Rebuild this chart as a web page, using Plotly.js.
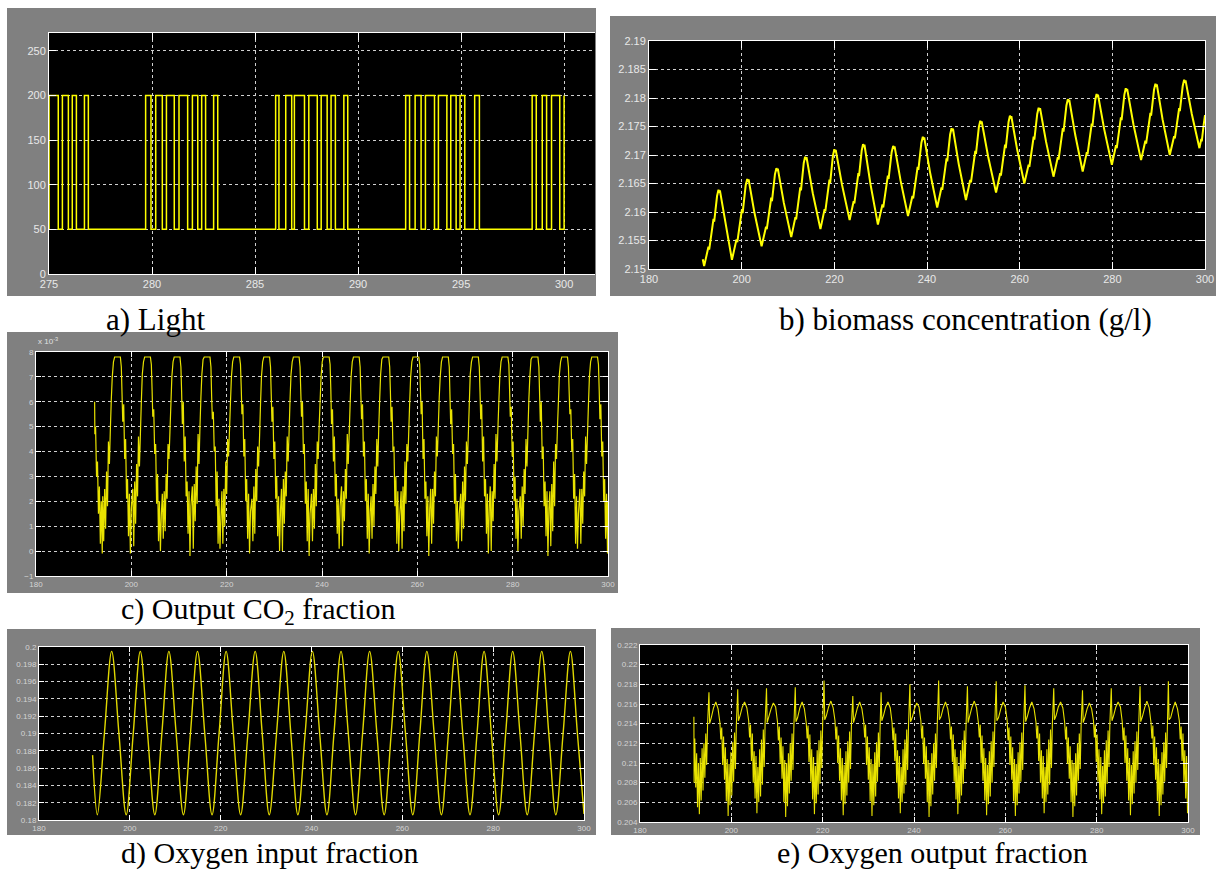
<!DOCTYPE html>
<html><head><meta charset="utf-8">
<script src="https://cdn.plot.ly/plotly-3.0.1.min.js"></script>
<style>html,body{margin:0;padding:0;background:#fff;}#chart{width:1218px;height:870px;}</style>
</head><body><div id="chart"></div>
<script>
// ---------- a) Light (step signal, edge times and level after each edge) ----------
const light_t = [275.00,275.00,275.45,275.65,275.94,276.13,276.33,276.72,276.91,279.69,279.95,280.18,280.50,280.70,281.08,281.31,281.73,281.96,282.22,282.41,282.60,282.99,283.19,286.00,286.16,286.49,286.78,286.91,287.40,287.61,288.02,288.21,288.50,288.69,288.90,289.31,289.50,292.31,292.50,292.77,293.06,293.27,293.71,293.90,294.31,294.50,294.76,294.95,295.18,295.66,295.89,298.45,298.65,298.94,299.15,299.39,299.79,300.00];
const light_v = [50,200,50,200,50,200,50,200,50,200,50,200,50,200,50,200,50,200,50,200,50,200,50,200,50,200,50,200,50,200,50,200,50,200,50,200,50,200,50,200,50,200,50,200,50,200,50,200,50,200,50,200,50,200,50,200,50,200];

// ---------- b) biomass concentration (g/l) ----------
const bio_t = [191.6,
191.9,192.83,192.99,193.92,194.07,194.69,195.0,195.2,195.3,196.6,
197.9,198.89,199.06,200.05,200.21,200.87,201.2,201.4,201.5,202.75,
204.3,205.26,205.42,206.38,206.54,207.18,207.5,207.7,207.8,209.1,
210.7,211.6,211.75,212.65,212.8,213.4,213.7,213.9,214.0,215.35,
217.0,217.9,218.05,218.95,219.1,219.7,220.0,220.2,220.3,221.65,
223.3,224.17,224.32,225.19,225.33,225.91,226.2,226.4,226.5,227.8,
229.4,230.39,230.56,231.55,231.71,232.37,232.7,232.9,233.0,234.3,
235.9,236.86,237.02,237.98,238.14,238.78,239.1,239.3,239.4,240.65,
242.2,243.13,243.29,244.22,244.37,244.99,245.3,245.5,245.6,246.85,
248.4,249.33,249.49,250.42,250.57,251.19,251.5,251.7,251.8,253.2,
254.9,255.8,255.95,256.85,257.0,257.6,257.9,258.1,258.2,259.45,
261.0,261.93,262.09,263.02,263.17,263.79,264.1,264.3,264.4,265.7,
267.3,268.23,268.39,269.32,269.47,270.09,270.4,270.6,270.7,272.0,
273.6,274.5,274.65,275.55,275.7,276.3,276.6,276.8,276.9,278.25,
279.9,280.8,280.95,281.85,282.0,282.6,282.9,283.1,283.2,284.55,
286.2,287.13,287.29,288.22,288.37,288.99,289.3,289.5,289.6,290.85,
292.4,293.33,293.49,294.42,294.57,295.19,295.5,295.7,295.8,297.15,
298.8,299.2,299.3,299.7,300.0];
const bio_v = [2.1517,
2.1505,2.1539,2.1534,2.1588,2.1583,2.1628,2.1639,2.1634,2.1638,2.1577,
2.1516,2.1552,2.1547,2.1604,2.1598,2.1647,2.1658,2.1653,2.1657,2.1599,
2.1540,2.1574,2.1570,2.1625,2.1619,2.1666,2.1677,2.1672,2.1676,2.1616,
2.1556,2.1591,2.1587,2.1643,2.1638,2.1686,2.1697,2.1692,2.1696,2.1633,
2.1570,2.1605,2.1601,2.1657,2.1651,2.1699,2.1710,2.1705,2.1709,2.1648,
2.1586,2.1619,2.1615,2.1668,2.1663,2.1708,2.1719,2.1714,2.1718,2.1649,
2.1578,2.1613,2.1608,2.1664,2.1658,2.1705,2.1716,2.1711,2.1715,2.1655,
2.1593,2.1628,2.1624,2.1679,2.1674,2.1721,2.1732,2.1727,2.1731,2.1670,
2.1608,2.1643,2.1639,2.1694,2.1689,2.1736,2.1747,2.1742,2.1746,2.1684,
2.1621,2.1656,2.1652,2.1707,2.1702,2.1749,2.1760,2.1755,2.1759,2.1697,
2.1634,2.1668,2.1664,2.1718,2.1712,2.1758,2.1769,2.1764,2.1768,2.1710,
2.1650,2.1683,2.1679,2.1732,2.1727,2.1772,2.1783,2.1778,2.1782,2.1723,
2.1662,2.1696,2.1692,2.1747,2.1741,2.1787,2.1798,2.1793,2.1797,2.1735,
2.1671,2.1705,2.1701,2.1755,2.1750,2.1796,2.1807,2.1802,2.1806,2.1745,
2.1683,2.1717,2.1712,2.1766,2.1761,2.1806,2.1817,2.1812,2.1816,2.1754,
2.1691,2.1725,2.1720,2.1774,2.1769,2.1814,2.1825,2.1820,2.1824,2.1762,
2.1700,2.1733,2.1729,2.1782,2.1777,2.1821,2.1832,2.1827,2.1831,2.1772,
2.1712,2.1728,2.1724,2.1752,2.1770];

// ---------- c) Output CO2 fraction (values in units of 10^-3) ----------
const co2_t = [192.3,192.35,192.5,192.7,192.9,193.1,193.3,193.5,193.7,193.9,
194.0,194.2,194.4,194.6,194.8,195.0,195.2,195.4,195.6,195.8,196.0,196.25,196.5,197.7,197.9,198.05,198.2,198.4,198.6,198.8,199.0,199.2,199.4,199.6,199.8,200.0,
200.3,200.5,200.7,200.9,201.1,201.3,201.5,201.7,201.9,202.1,202.3,202.55,202.8,204.0,204.2,204.35,204.5,204.7,204.9,205.1,205.3,205.5,205.7,205.9,206.1,206.3,
206.5,206.7,206.9,207.1,207.3,207.5,207.7,207.9,208.1,208.3,208.5,208.75,209.0,210.2,210.4,210.55,210.7,210.9,211.1,211.3,211.5,211.7,211.9,212.1,212.3,212.5,
212.8,213.0,213.2,213.4,213.6,213.8,214.0,214.2,214.4,214.6,214.8,215.05,215.3,216.5,216.7,216.85,217.0,217.2,217.4,217.6,217.8,218.0,218.2,218.4,218.6,218.8,
219.0,219.2,219.4,219.6,219.8,220.0,220.2,220.4,220.6,220.8,221.0,221.25,221.5,222.7,222.9,223.05,223.2,223.4,223.6,223.8,224.0,224.2,224.4,224.6,224.8,225.0,
225.3,225.5,225.7,225.9,226.1,226.3,226.5,226.7,226.9,227.1,227.3,227.55,227.8,229.0,229.2,229.35,229.5,229.7,229.9,230.1,230.3,230.5,230.7,230.9,231.1,231.3,
231.5,231.7,231.9,232.1,232.3,232.5,232.7,232.9,233.1,233.3,233.5,233.75,234.0,235.2,235.4,235.55,235.7,235.9,236.1,236.3,236.5,236.7,236.9,237.1,237.3,237.5,
237.8,238.0,238.2,238.4,238.6,238.8,239.0,239.2,239.4,239.6,239.8,240.05,240.3,241.5,241.7,241.85,242.0,242.2,242.4,242.6,242.8,243.0,243.2,243.4,243.6,243.8,
244.1,244.3,244.5,244.7,244.9,245.1,245.3,245.5,245.7,245.9,246.1,246.35,246.6,247.8,248.0,248.15,248.3,248.5,248.7,248.9,249.1,249.3,249.5,249.7,249.9,250.1,
250.3,250.5,250.7,250.9,251.1,251.3,251.5,251.7,251.9,252.1,252.3,252.55,252.8,254.0,254.2,254.35,254.5,254.7,254.9,255.1,255.3,255.5,255.7,255.9,256.1,256.3,
256.6,256.8,257.0,257.2,257.4,257.6,257.8,258.0,258.2,258.4,258.6,258.85,259.1,260.3,260.5,260.65,260.8,261.0,261.2,261.4,261.6,261.8,262.0,262.2,262.4,262.6,
262.8,263.0,263.2,263.4,263.6,263.8,264.0,264.2,264.4,264.6,264.8,265.05,265.3,266.5,266.7,266.85,267.0,267.2,267.4,267.6,267.8,268.0,268.2,268.4,268.6,268.8,
269.1,269.3,269.5,269.7,269.9,270.1,270.3,270.5,270.7,270.9,271.1,271.35,271.6,272.8,273.0,273.15,273.3,273.5,273.7,273.9,274.1,274.3,274.5,274.7,274.9,275.1,
275.3,275.5,275.7,275.9,276.1,276.3,276.5,276.7,276.9,277.1,277.3,277.55,277.8,279.0,279.2,279.35,279.5,279.7,279.9,280.1,280.3,280.5,280.7,280.9,281.1,281.3,
281.6,281.8,282.0,282.2,282.4,282.6,282.8,283.0,283.2,283.4,283.6,283.85,284.1,285.3,285.5,285.65,285.8,286.0,286.2,286.4,286.6,286.8,287.0,287.2,287.4,287.6,
287.8,288.0,288.2,288.4,288.6,288.8,289.0,289.2,289.4,289.6,289.8,290.05,290.3,291.5,291.7,291.85,292.0,292.2,292.4,292.6,292.8,293.0,293.2,293.4,293.6,293.8,
294.1,294.3,294.5,294.7,294.9,295.1,295.3,295.5,295.7,295.9,296.1,296.35,296.6,297.8,298.0,298.15,298.3,298.5,298.7,298.9,299.1,299.3,299.5,299.7,299.9,300.0];
const co2_x1e3 = [6.0,4.7,5.0,3.0,3.6,1.5,2.6,0.3,2.0,-0.1,
2.2,0.4,2.5,0.9,3.2,1.8,4.4,3.5,4.9,6.1,7.0,7.6,7.8,7.8,7.4,6.3,5.2,5.9,3.7,4.5,2.1,2.9,0.6,2.3,-0.1,1.7,
2.5,0.2,2.8,1.1,3.5,2.2,4.6,3.4,4.7,6.0,7.1,7.6,7.8,7.8,7.5,6.5,5.4,5.7,3.9,4.3,1.9,3.1,0.4,2.0,0.0,1.5,
2.3,0.5,2.4,0.8,3.1,2.1,4.3,3.7,4.8,5.9,7.0,7.6,7.8,7.8,7.4,6.4,5.1,6.0,3.6,4.6,2.2,2.8,0.7,2.4,-0.2,1.8,
2.6,0.1,2.7,1.2,3.4,1.9,4.7,3.5,5.0,6.2,7.1,7.7,7.8,7.8,7.4,6.2,5.3,5.6,4.0,4.2,1.8,3.2,0.3,2.1,0.1,1.4,
2.4,0.3,2.5,1.0,3.6,2.3,4.5,3.8,4.9,6.0,7.0,7.6,7.8,7.8,7.5,6.6,5.5,5.9,3.8,4.5,2.0,2.9,0.5,2.3,-0.1,1.6,
2.1,0.4,2.6,0.7,3.3,2.0,4.2,3.4,4.6,5.9,7.0,7.6,7.8,7.8,7.4,6.3,5.2,5.8,3.7,4.4,2.1,3.0,0.6,2.2,0.0,1.7,
2.5,0.0,2.9,1.1,3.2,2.2,4.6,3.6,4.8,6.1,7.1,7.6,7.8,7.8,7.4,6.4,5.4,6.0,3.9,4.3,1.9,2.8,0.4,2.5,-0.2,1.5,
2.3,0.4,2.5,0.9,3.5,1.8,4.4,3.7,5.0,6.0,7.0,7.6,7.8,7.8,7.5,6.5,5.1,5.7,3.6,4.6,2.2,3.1,0.7,2.1,0.1,1.8,
2.6,0.2,2.4,1.2,3.3,2.1,4.7,3.5,4.7,5.9,7.0,7.6,7.8,7.8,7.4,6.3,5.3,5.9,3.8,4.4,2.0,2.9,0.5,2.3,-0.1,1.6,
2.2,0.5,2.7,1.0,3.4,2.3,4.5,3.4,4.9,6.1,7.1,7.7,7.8,7.8,7.4,6.4,5.2,5.8,4.0,4.2,1.8,3.0,0.3,2.4,0.0,1.4,
2.4,0.1,2.6,0.8,3.6,1.9,4.3,3.6,4.8,6.0,7.0,7.6,7.8,7.8,7.5,6.5,5.5,6.0,3.7,4.5,2.1,2.8,0.6,2.2,-0.2,1.7,
2.5,0.3,2.5,1.1,3.2,2.2,4.6,3.8,5.0,6.2,7.0,7.6,7.8,7.8,7.4,6.2,5.1,5.7,3.9,4.3,1.9,3.1,0.4,2.0,0.1,1.5,
2.3,0.4,2.8,0.9,3.4,2.0,4.4,3.5,4.7,5.9,7.1,7.6,7.8,7.8,7.4,6.4,5.3,5.9,3.6,4.6,2.2,2.9,0.7,2.3,-0.1,1.8,
2.6,0.0,2.4,1.2,3.5,2.1,4.7,3.6,4.9,6.0,7.0,7.6,7.8,7.8,7.5,6.5,5.4,5.8,3.8,4.4,2.0,3.0,0.5,2.1,0.0,1.6,
2.2,0.5,2.6,1.0,3.3,2.3,4.5,3.4,4.8,6.1,7.0,7.7,7.8,7.8,7.4,6.3,5.2,6.0,3.7,4.2,1.8,2.8,0.6,2.4,-0.2,1.7,
2.4,0.2,2.7,0.8,3.6,1.8,4.3,3.7,5.0,6.0,7.1,7.6,7.8,7.8,7.4,6.4,5.5,5.7,4.0,4.5,2.1,3.1,0.3,2.2,0.1,1.5,
2.5,0.3,2.5,1.1,3.2,2.2,4.6,3.5,4.7,5.9,7.0,7.6,7.8,7.8,7.5,6.5,5.3,5.9,3.8,4.4,2.0,2.9,0.5,2.3,-0.1,2.0];

// ---------- d) Oxygen input fraction (peaks, zero crossings, troughs) ----------
const o2in_t = [191.8,192.85,194.4,196.0,197.6,199.2,200.75,202.3,203.9,205.5,207.05,208.6,210.2,211.8,213.35,214.9,216.5,218.1,219.65,221.2,222.8,224.4,226.0,227.6,229.15,230.7,232.3,233.9,235.45,237.0,238.6,240.2,241.8,243.4,244.95,246.5,248.1,249.7,251.25,252.8,254.4,256.0,257.55,259.1,260.7,262.3,263.85,265.4,267.0,268.6,270.15,271.7,273.3,274.9,276.45,278.0,279.6,281.2,282.75,284.3,285.9,287.5,289.1,290.7,292.25,293.8,295.4,297.0,298.55,300.0];
const o2in_v = [0.1875,0.1806,0.1900,0.1995,0.1900,0.1806,0.1900,0.1995,0.1900,0.1806,0.1900,0.1995,0.1900,0.1806,0.1900,0.1995,0.1900,0.1806,0.1900,0.1995,0.1900,0.1806,0.1900,0.1995,0.1900,0.1806,0.1900,0.1995,0.1900,0.1806,0.1900,0.1995,0.1900,0.1806,0.1900,0.1995,0.1900,0.1806,0.1900,0.1995,0.1900,0.1806,0.1900,0.1995,0.1900,0.1806,0.1900,0.1995,0.1900,0.1806,0.1900,0.1995,0.1900,0.1806,0.1900,0.1995,0.1900,0.1806,0.1900,0.1995,0.1900,0.1806,0.1900,0.1995,0.1900,0.1806,0.1900,0.1995,0.1900,0.1807];

// ---------- e) Oxygen output fraction ----------
const o2out_t = [191.8,191.85,192.0,192.2,192.4,192.6,192.8,193.0,193.2,193.4,193.6,193.8,194.0,194.2,194.4,194.6,194.8,
195.1,195.25,195.6,196.1,196.6,197.1,197.5,197.7,197.9,198.1,198.3,198.5,198.7,198.9,199.1,199.3,199.5,199.7,199.9,200.1,200.3,200.5,200.7,200.9,201.1,
201.4,201.55,201.9,202.4,202.9,203.4,203.8,204.0,204.2,204.4,204.6,204.8,205.0,205.2,205.4,205.6,205.8,206.0,206.2,206.4,206.6,206.8,207.0,207.2,207.4,
207.7,207.85,208.2,208.7,209.2,209.7,210.1,210.3,210.5,210.7,210.9,211.1,211.3,211.5,211.7,211.9,212.1,212.3,212.5,212.7,212.9,213.1,213.3,213.5,213.7,
214.0,214.15,214.5,215.0,215.5,216.0,216.4,216.6,216.8,217.0,217.2,217.4,217.6,217.8,218.0,218.2,218.4,218.6,218.8,219.0,219.2,219.4,219.6,219.8,220.0,
220.3,220.45,220.8,221.3,221.8,222.3,222.7,222.9,223.1,223.3,223.5,223.7,223.9,224.1,224.3,224.5,224.7,224.9,225.1,225.3,225.5,225.7,225.9,226.1,226.3,
226.6,226.75,227.1,227.6,228.1,228.6,229.0,229.2,229.4,229.6,229.8,230.0,230.2,230.4,230.6,230.8,231.0,231.2,231.4,231.6,231.8,232.0,232.2,232.4,232.6,
232.8,232.95,233.3,233.8,234.3,234.8,235.2,235.4,235.6,235.8,236.0,236.2,236.4,236.6,236.8,237.0,237.2,237.4,237.6,237.8,238.0,238.2,238.4,238.6,238.8,
239.1,239.25,239.6,240.1,240.6,241.1,241.5,241.7,241.9,242.1,242.3,242.5,242.7,242.9,243.1,243.3,243.5,243.7,243.9,244.1,244.3,244.5,244.7,244.9,245.1,
245.4,245.55,245.9,246.4,246.9,247.4,247.8,248.0,248.2,248.4,248.6,248.8,249.0,249.2,249.4,249.6,249.8,250.0,250.2,250.4,250.6,250.8,251.0,251.2,251.4,
251.7,251.85,252.2,252.7,253.2,253.7,254.1,254.3,254.5,254.7,254.9,255.1,255.3,255.5,255.7,255.9,256.1,256.3,256.5,256.7,256.9,257.1,257.3,257.5,257.7,
258.0,258.15,258.5,259.0,259.5,260.0,260.4,260.6,260.8,261.0,261.2,261.4,261.6,261.8,262.0,262.2,262.4,262.6,262.8,263.0,263.2,263.4,263.6,263.8,264.0,
264.3,264.45,264.8,265.3,265.8,266.3,266.7,266.9,267.1,267.3,267.5,267.7,267.9,268.1,268.3,268.5,268.7,268.9,269.1,269.3,269.5,269.7,269.9,270.1,270.3,
270.6,270.75,271.1,271.6,272.1,272.6,273.0,273.2,273.4,273.6,273.8,274.0,274.2,274.4,274.6,274.8,275.0,275.2,275.4,275.6,275.8,276.0,276.2,276.4,276.6,
276.9,277.05,277.4,277.9,278.4,278.9,279.3,279.5,279.7,279.9,280.1,280.3,280.5,280.7,280.9,281.1,281.3,281.5,281.7,281.9,282.1,282.3,282.5,282.7,282.9,
283.2,283.35,283.7,284.2,284.7,285.2,285.6,285.8,286.0,286.2,286.4,286.6,286.8,287.0,287.2,287.4,287.6,287.8,288.0,288.2,288.4,288.6,288.8,289.0,289.2,
289.5,289.65,290.0,290.5,291.0,291.5,291.9,292.1,292.3,292.5,292.7,292.9,293.1,293.3,293.5,293.7,293.9,294.1,294.3,294.5,294.7,294.9,295.1,295.3,295.5,
295.7,295.85,296.2,296.7,297.2,297.7,298.1,298.3,298.5,298.7,298.9,299.1,299.3,299.5,299.7,299.9,300.0];
const o2out_v = [0.2147,0.2080,0.2125,0.2075,0.2110,0.2055,0.2100,0.2048,0.2105,0.2062,0.2115,0.2072,0.2120,0.2085,0.2130,0.2098,0.2140,
0.2172,0.2140,0.2146,0.2156,0.2162,0.2155,0.2141,0.2124,0.2136,0.2098,0.2127,0.2083,0.2116,0.2061,0.2104,0.2046,0.2099,0.2057,0.2111,0.2067,0.2121,0.2081,0.2131,0.2094,0.2139,
0.2175,0.2143,0.2148,0.2157,0.2162,0.2156,0.2143,0.2126,0.2139,0.2102,0.2130,0.2080,0.2112,0.2064,0.2107,0.2049,0.2096,0.2060,0.2114,0.2066,0.2124,0.2078,0.2134,0.2096,0.2141,
0.2176,0.2141,0.2147,0.2155,0.2161,0.2157,0.2142,0.2123,0.2137,0.2099,0.2126,0.2084,0.2117,0.2060,0.2103,0.2045,0.2100,0.2056,0.2110,0.2069,0.2120,0.2082,0.2130,0.2093,0.2138,
0.2177,0.2142,0.2146,0.2156,0.2162,0.2155,0.2141,0.2125,0.2138,0.2101,0.2129,0.2081,0.2114,0.2063,0.2106,0.2048,0.2097,0.2059,0.2113,0.2068,0.2123,0.2079,0.2133,0.2095,0.2140,
0.2184,0.2144,0.2148,0.2157,0.2163,0.2156,0.2143,0.2124,0.2137,0.2100,0.2128,0.2082,0.2115,0.2062,0.2105,0.2047,0.2098,0.2058,0.2112,0.2067,0.2122,0.2080,0.2132,0.2094,0.2139,
0.2168,0.2141,0.2147,0.2156,0.2162,0.2155,0.2142,0.2126,0.2139,0.2098,0.2127,0.2083,0.2116,0.2061,0.2104,0.2046,0.2099,0.2057,0.2111,0.2066,0.2121,0.2081,0.2131,0.2096,0.2141,
0.2172,0.2143,0.2148,0.2157,0.2162,0.2156,0.2141,0.2123,0.2136,0.2102,0.2130,0.2080,0.2113,0.2064,0.2107,0.2049,0.2096,0.2060,0.2114,0.2069,0.2124,0.2078,0.2134,0.2093,0.2138,
0.2180,0.2142,0.2146,0.2155,0.2161,0.2157,0.2143,0.2125,0.2138,0.2099,0.2126,0.2084,0.2117,0.2060,0.2103,0.2045,0.2100,0.2056,0.2110,0.2068,0.2120,0.2082,0.2130,0.2095,0.2140,
0.2184,0.2144,0.2147,0.2156,0.2162,0.2155,0.2142,0.2124,0.2137,0.2101,0.2129,0.2081,0.2114,0.2063,0.2106,0.2048,0.2097,0.2059,0.2113,0.2067,0.2123,0.2079,0.2133,0.2094,0.2139,
0.2178,0.2141,0.2148,0.2157,0.2163,0.2156,0.2141,0.2126,0.2139,0.2100,0.2128,0.2082,0.2115,0.2062,0.2105,0.2047,0.2098,0.2058,0.2112,0.2066,0.2122,0.2080,0.2132,0.2096,0.2141,
0.2183,0.2143,0.2146,0.2155,0.2162,0.2157,0.2143,0.2123,0.2136,0.2098,0.2127,0.2083,0.2116,0.2061,0.2104,0.2046,0.2099,0.2057,0.2111,0.2069,0.2121,0.2081,0.2131,0.2093,0.2138,
0.2179,0.2142,0.2147,0.2156,0.2162,0.2155,0.2142,0.2125,0.2138,0.2102,0.2130,0.2080,0.2113,0.2064,0.2107,0.2049,0.2096,0.2060,0.2114,0.2068,0.2124,0.2078,0.2134,0.2095,0.2140,
0.2176,0.2144,0.2148,0.2157,0.2162,0.2156,0.2141,0.2124,0.2137,0.2099,0.2126,0.2084,0.2117,0.2060,0.2103,0.2045,0.2100,0.2056,0.2110,0.2067,0.2120,0.2082,0.2130,0.2094,0.2139,
0.2174,0.2141,0.2146,0.2155,0.2161,0.2155,0.2143,0.2126,0.2139,0.2101,0.2129,0.2081,0.2114,0.2063,0.2106,0.2048,0.2097,0.2059,0.2113,0.2066,0.2123,0.2079,0.2133,0.2096,0.2141,
0.2176,0.2143,0.2148,0.2157,0.2162,0.2157,0.2142,0.2123,0.2136,0.2100,0.2128,0.2082,0.2115,0.2062,0.2105,0.2047,0.2098,0.2058,0.2112,0.2069,0.2122,0.2080,0.2132,0.2093,0.2138,
0.2178,0.2142,0.2147,0.2156,0.2163,0.2156,0.2141,0.2125,0.2138,0.2098,0.2127,0.2083,0.2116,0.2061,0.2104,0.2046,0.2099,0.2057,0.2111,0.2068,0.2121,0.2081,0.2131,0.2095,0.2140,
0.2183,0.2144,0.2146,0.2155,0.2162,0.2155,0.2143,0.2124,0.2137,0.2102,0.2130,0.2080,0.2113,0.2064,0.2107,0.2049,0.2056];

const captions = ['a) Light', 'b) biomass concentration (g/l)', 'c) Output CO<sub>2</sub> fraction', 'd) Oxygen input fraction', 'e) Oxygen output fraction'];

// ---------- layout geometry (pixels in the 1218x870 page) ----------
const W = 1218, H = 870;
const fx = v => v / W, fy = v => 1 - v / H;
const plotBox = {a:[49,595,33,274], b:[649,1205,41,269], c:[36,608,352,576], d:[39,584,647,820], e:[640,1188,645,822]};
const frameBox = {a:[7,596,8,296], b:[610,1216,16,296], c:[7,618,332,593], d:[7,596,629,835], e:[611,1200,628,835]};

const fontBig = {family:'Liberation Sans, Arial, sans-serif', size:11, color:'#e8e8e8'};
const fontSmall = {family:'Liberation Sans, Arial, sans-serif', size:8, color:'#d4d4d4'};
const baseAx = {showline:true, linecolor:'#ffffff', linewidth:1, mirror:'ticks', ticks:'inside', ticklen:7, tickwidth:1, tickcolor:'#ffffff', showgrid:true, gridcolor:'#d0d0d0', griddash:'dot', gridwidth:1, zeroline:false, fixedrange:true};
function xax(k, extra){ const b = plotBox[k]; return Object.assign({}, baseAx, {domain:[fx(b[0]), fx(b[1])]}, extra); }
function yax(k, extra){ const b = plotBox[k]; return Object.assign({}, baseAx, {domain:[fy(b[3]), fy(b[2])]}, extra); }

const yellow = '#ffff00';
const traces = [
  {x:light_t, y:light_v, xaxis:'x', yaxis:'y', mode:'lines', line:{color:yellow, width:1.5, shape:'hv'}, hoverinfo:'skip'},
  {x:bio_t, y:bio_v, xaxis:'x2', yaxis:'y2', mode:'lines', line:{color:yellow, width:2, simplify:false}, hoverinfo:'skip'},
  {x:co2_t, y:co2_x1e3, xaxis:'x3', yaxis:'y3', mode:'lines', line:{color:'#e8e200', width:1.2, simplify:false}, hoverinfo:'skip'},
  {x:o2in_t, y:o2in_v, xaxis:'x4', yaxis:'y4', mode:'lines', line:{color:'#e0d800', width:1.4, shape:'spline', smoothing:1}, hoverinfo:'skip'},
  {x:o2out_t, y:o2out_v, xaxis:'x5', yaxis:'y5', mode:'lines', line:{color:'#e8e200', width:1.1, simplify:false}, hoverinfo:'skip'}
];

// gray scope frames, then black plotting areas on top of them
const shapes = [];
Object.keys(frameBox).forEach(k => {
  const b = frameBox[k];
  shapes.push({type:'rect', xref:'paper', yref:'paper', x0:fx(b[0]), x1:fx(b[1]), y0:fy(b[3]), y1:fy(b[2]), fillcolor:'#808080', line:{width:0}, layer:'below'});
});
Object.keys(plotBox).forEach(k => {
  const b = plotBox[k];
  shapes.push({type:'rect', xref:'paper', yref:'paper', x0:fx(b[0]), x1:fx(b[1]), y0:fy(b[3]), y1:fy(b[2]), fillcolor:'#000000', line:{width:0}, layer:'below'});
});

const capPos = [[104,319],[777,319],[119,611],[119,853],[775,853]];
const capSize = [31, 31, 30, 30, 30];
const annotations = captions.map((t,i) => ({text:t, xref:'paper', yref:'paper', x:fx(capPos[i][0]), y:fy(capPos[i][1]), xanchor:'left', yanchor:'middle', showarrow:false, font:{family:'Liberation Serif, Times New Roman, serif', size:capSize[i], color:'#000'}}));
annotations.push({text:'x 10<sup>-3</sup>', xref:'paper', yref:'paper', x:fx(36), y:fy(348), xanchor:'left', yanchor:'bottom', showarrow:false, font:{family:'Liberation Sans, Arial, sans-serif', size:8, color:'#e0e0e0'}});

const layout = {
  width:W, height:H, margin:{l:0,r:0,t:0,b:0}, paper_bgcolor:'#ffffff', plot_bgcolor:'rgba(0,0,0,0)', showlegend:false,
  xaxis: xax('a', {anchor:'y', range:[275,301.5], tick0:275, dtick:5, tickfont:fontBig}),
  yaxis: yax('a', {anchor:'x', range:[0,270], tick0:0, dtick:50, tickfont:fontBig, mirror:false}),
  xaxis2: xax('b', {anchor:'y2', range:[180,300], tick0:180, dtick:20, tickfont:fontBig}),
  yaxis2: yax('b', {anchor:'x2', range:[2.15,2.19], tick0:2.15, dtick:0.005, tickfont:fontBig}),
  xaxis3: xax('c', {anchor:'y3', range:[180,300], tick0:180, dtick:20, tickfont:fontSmall, ticklen:5}),
  yaxis3: yax('c', {anchor:'x3', range:[-1,8], tick0:-1, dtick:1, tickfont:fontSmall, ticklen:5}),
  xaxis4: xax('d', {anchor:'y4', range:[180,300], tick0:180, dtick:20, tickfont:fontSmall, ticklen:5}),
  yaxis4: yax('d', {anchor:'x4', range:[0.18,0.2], tick0:0.18, dtick:0.002, tickfont:fontSmall, ticklen:5}),
  xaxis5: xax('e', {anchor:'y5', range:[180,300], tick0:180, dtick:20, tickfont:fontSmall, ticklen:5}),
  yaxis5: yax('e', {anchor:'x5', range:[0.204,0.222], tick0:0.204, dtick:0.002, tickfont:fontSmall, ticklen:5}),
  shapes: shapes,
  annotations: annotations
};

Plotly.newPlot('chart', traces, layout, {staticPlot:true, displayModeBar:false});
</script>
</body></html>
